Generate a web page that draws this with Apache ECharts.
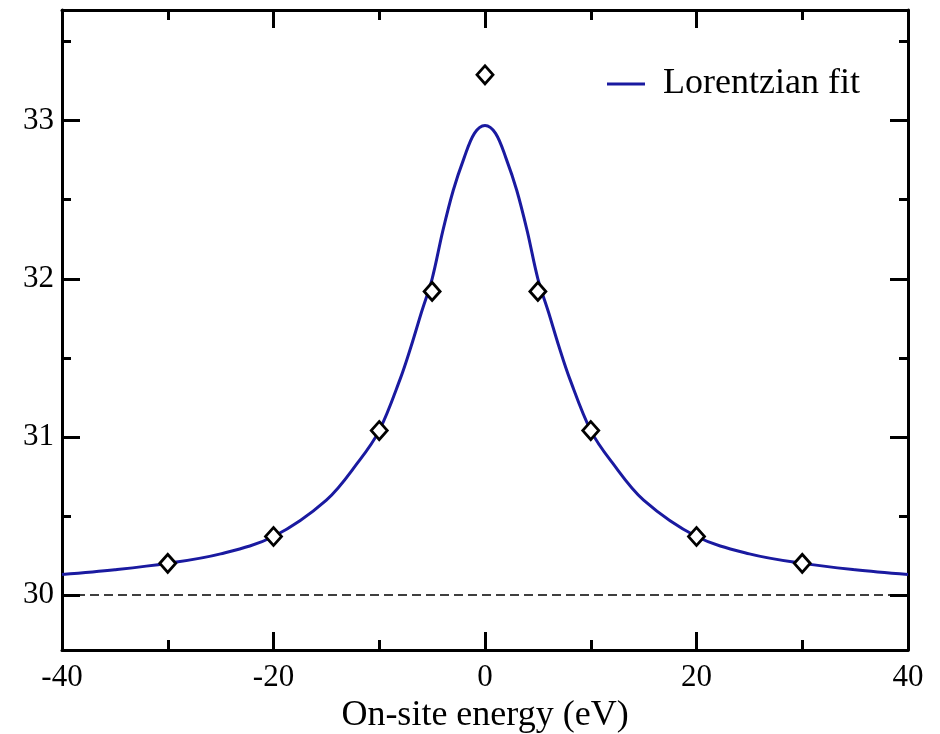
<!DOCTYPE html>
<html>
<head>
<meta charset="utf-8">
<script src="https://cdn.jsdelivr.net/npm/echarts@6/dist/echarts.min.js"></script>
<style>html,body{margin:0;padding:0;background:#fff}#c{width:940px;height:734px}</style>
</head>
<body>
<div id="c"></div>
<script>
// Data
const fitX = [-40,-35,-30,-25,-20,-15,-12,-10,-8,-7,-6,-5,-4,-3,-2,-1,0,1,2,3,4,5,6,7,8,10,12,15,20,25,30,35,40];
const fitY = [30.13,30.16,30.20,30.26,30.37,30.60,30.84,31.04,31.37,31.57,31.79,32.00,32.30,32.56,32.76,32.92,32.97,32.92,32.76,32.56,32.30,32.00,31.79,31.57,31.37,31.04,30.84,30.60,30.37,30.26,30.20,30.16,30.13];
const ptX = [-30,-20,-10,-5,0,5,10,20,30];
const ptY = [30.20,30.37,31.04,31.92,33.29,31.92,31.04,30.37,30.20];
const yMajor = [30,31,32,33];
const yMinor = [30.5,31.5,32.5,33.5];
const xMajor = [-40,-20,0,20,40];
const xMinor = [-30,-10,10,30];
const baseline = 30;
const seriesName = 'Lorentzian fit';
const xTitle = 'On-site energy (eV)';

const FONT = 'Liberation Serif';
const Y_MIN = 29.652, Y_MAX = 33.70;
const lineStyle = {color:'#000', width:3};

function xAx(pos, vals, len, showLine, showLabel, name){
  return {
    type:'value', min:-40, max:40, position:pos, gridIndex:0,
    axisLine:{show:showLine, onZero:false, lineStyle:lineStyle},
    axisTick:{show:true, inside:true, length:len, customValues:vals, lineStyle:{color:'#000', width:3}},
    axisLabel:{show:showLabel, customValues:vals, fontFamily:FONT, fontSize:31, color:'#000', margin:12},
    splitLine:{show:false},
    name: name || '', nameLocation:'middle', nameGap:44,
    nameTextStyle:{fontFamily:FONT, fontSize:36, color:'#000'}
  };
}
function yAx(pos, vals, len, showLine, showLabel){
  return {
    type:'value', min:Y_MIN, max:Y_MAX, position:pos, gridIndex:0,
    axisLine:{show:showLine, onZero:false, lineStyle:lineStyle},
    axisTick:{show:true, inside:true, length:len, customValues:vals, lineStyle:{color:'#000', width:3}},
    axisLabel:{show:showLabel, customValues:vals, fontFamily:FONT, fontSize:31, color:'#000', margin:8},
    splitLine:{show:false}
  };
}

const chart = echarts.init(document.getElementById('c'), null, {renderer:'canvas'});
chart.setOption({
  animation:false,
  backgroundColor:'#fff',
  grid:{left:62, right:32, top:10, bottom:84, containLabel:false, outerBoundsMode:'none'},
  legend:{
    data:[seriesName], left:602, top:61, itemWidth:38, itemHeight:3, icon:'rect',
    textStyle:{fontFamily:FONT, fontSize:36, color:'#000', padding:[0,0,0,13]}
  },
  xAxis:[
    xAx('bottom', xMajor, 18, true, true, xTitle),
    xAx('bottom', xMinor, 10, false, false),
    xAx('top', xMajor, 18, true, false),
    xAx('top', xMinor, 10, false, false)
  ],
  yAxis:[
    yAx('left', yMajor, 18, true, true),
    yAx('left', yMinor, 9, false, false),
    yAx('right', yMajor, 18, true, false),
    yAx('right', yMinor, 9, false, false)
  ],
  series:[
    {
      name:seriesName, type:'line', xAxisIndex:0, yAxisIndex:0,
      data: fitX.map((x,i)=>[x, fitY[i]]),
      smooth:0.35, symbol:'none', showSymbol:false,
      lineStyle:{color:'#1a1aa0', width:3}, itemStyle:{color:'#1a1aa0'}, z:2,
      markLine:{
        silent:true, symbol:['none','none'], label:{show:false},
        lineStyle:{color:'#000', type:[9,5], width:1.5},
        data:[{yAxis:baseline}]
      }
    },
    {
      name:'points', type:'scatter', xAxisIndex:0, yAxisIndex:0,
      data: ptX.map((x,i)=>[x, ptY[i]]),
      symbol:'diamond', symbolSize:[16,18],
      itemStyle:{color:'#fff', borderColor:'#000', borderWidth:2.8, opacity:1}, z:3
    }
  ]
});
</script>
</body>
</html>
